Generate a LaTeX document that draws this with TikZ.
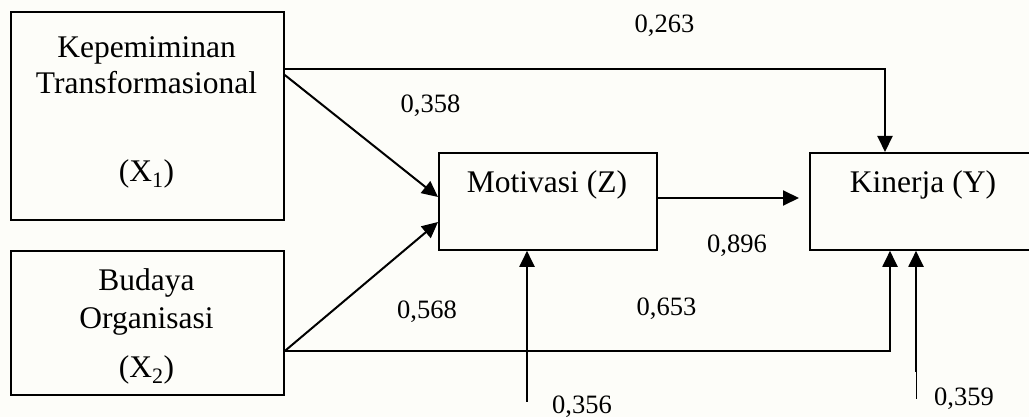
\documentclass[tikz,border=0pt]{standalone}
\usepackage{fontspec}
\setmainfont{Liberation Serif}
\usetikzlibrary{arrows.meta,calc}
\definecolor{bgc}{RGB}{253,253,249}
\begin{document}
\begin{tikzpicture}[x=1pt,y=-1pt,
  box/.style={draw, line width=1.8pt, inner sep=0pt, anchor=north west},
  lbl/.style={font=\fontsize{31.5}{36}\selectfont, inner sep=0pt, anchor=base},
  num/.style={font=\fontsize{26.5}{30}\selectfont, inner sep=0pt, anchor=base},
  conn/.style={line width=2pt, -{Triangle[length=16pt,width=15pt]}},
  wire/.style={line width=2pt},
  thinwire/.style={line width=0.9pt}]
\useasboundingbox (0,0) rectangle (1029,417);
\fill[bgc] (0,0) rectangle (1029,417);
\clip (0,0) rectangle (1029,417);
% boxes
\node[box, minimum width=273pt, minimum height=208pt] (x1) at (10,11) {};
\node[box, minimum width=273pt, minimum height=144pt] (x2) at (10,250) {};
\node[box, minimum width=218pt, minimum height=97pt] (z) at (438,152) {};
\node[box, minimum width=228pt, minimum height=97pt] (y) at (809,152) {};
% box texts
\node[lbl] (t1a) at (146.5,58) {Kepemiminan};
\node[lbl] (t1b) at (146.5,94) {Transformasional};
\node[lbl] (t1c) at (146.5,182) {(X\textsubscript{1})};
\node[lbl] (t2a) at (146.5,290) {Budaya};
\node[lbl] (t2b) at (146.5,328) {Organisasi};
\node[lbl] (t2c) at (146.5,377) {(X\textsubscript{2})};
\node[lbl] (tz) at (547,193) {Motivasi (Z)};
\node[lbl] (ty) at (923,193) {Kinerja (Y)};
% coefficient labels
\node[num] (n263) at (664.5,33) {0,263};
\node[num] (n358) at (430.5,113) {0,358};
\node[num] (n568) at (427,318) {0,568};
\node[num] (n896) at (737,252) {0,896};
\node[num] (n653) at (666.5,315) {0,653};
\node[num] (n356) at (582,413) {0,356};
\node[num] (n359) at (964,405) {0,359};
% connector points
\coordinate (x1a) at ($(x1.north east)+(0,64)$);
\coordinate (x1b) at ($(x1.north east)+(0,58)$);
\coordinate (za) at ($(z.north west)+(0,45)$);
\coordinate (zb) at ($(z.north west)+(0,70)$);
\coordinate (x2a) at ($(x2.north east)+(0,101)$);
\coordinate (yt) at ($(y.north west)+(76,0)$);
\coordinate (yb) at ($(y.south west)+(81,0)$);
\coordinate (yc) at ($(y.south west)+(107,0)$);
\coordinate (zc) at ($(z.south west)+(89,0)$);
\coordinate (zr) at ($(z.north east)+(0,46)$);
\coordinate (yl) at ($(y.north west)+(-10,46)$);
\coordinate (zin) at ($(zc)+(0,151)$);
\coordinate (yin) at ($(yc)+(0,121)$);
\coordinate (yend) at ($(yc)+(0,148)$);
% connectors
\draw[conn] (x1a) -- (za);
\draw[conn] (x2a) -- (zb);
\draw[conn] (x1b) -| (yt);
\draw[conn] (x2a) -| (yb);
\draw[conn] (zr) -- (yl);
\draw[conn] (zin) -- (zc);
\draw[conn] (yin) -- (yc);
\draw[thinwire] (yin) -- (yend);
\end{tikzpicture}
\end{document}
